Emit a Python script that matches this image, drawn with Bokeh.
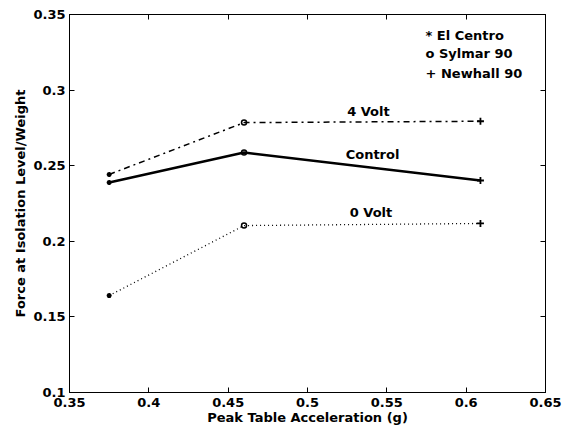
from bokeh.plotting import figure
from bokeh.models import LinearAxis, Range1d, FixedTicker, Label
from bokeh.embed import file_html
from bokeh.resources import INLINE

# Data
accel = [0.375, 0.46, 0.609]
volt4 = [0.2442, 0.2785, 0.2794]
control = [0.2389, 0.2587, 0.2402]
volt0 = [0.1641, 0.2104, 0.2118]
x_ticks = [0.35, 0.4, 0.45, 0.5, 0.55, 0.6, 0.65]
y_ticks = [0.1, 0.15, 0.2, 0.25, 0.3, 0.35]
legend_lines = ["* El Centro", "o Sylmar 90", "+ Newhall 90"]
curve_labels = ["4 Volt", "Control", "0 Volt"]

FONT = "DejaVu Sans"
FSIZE = "13px"

p = figure(width=570, height=434, output_backend="svg", toolbar_location=None,
           x_range=Range1d(0.35, 0.65), y_range=Range1d(0.1, 0.35),
           x_axis_label="Peak Table Acceleration (g)",
           y_axis_label="Force at Isolation Level/Weight")
p.min_border_left = 69
p.min_border_right = 25
p.min_border_top = 14
p.min_border_bottom = 42
p.grid.visible = False
p.outline_line_color = "black"
p.outline_line_width = 1
p.background_fill_color = "white"
p.border_fill_color = "white"

for ax in [p.xaxis[0], p.yaxis[0]]:
    ax.major_tick_in = 5
    ax.major_tick_out = 0
    ax.minor_tick_line_color = None
    ax.axis_line_color = "black"
    ax.major_label_text_font = FONT
    ax.major_label_text_font_style = "bold"
    ax.major_label_text_font_size = FSIZE
    ax.major_label_text_color = "black"
    ax.axis_label_text_font = FONT
    ax.axis_label_text_font_style = "bold"
    ax.axis_label_text_font_size = FSIZE
    ax.axis_label_text_color = "black"
p.xaxis[0].ticker = FixedTicker(ticks=x_ticks)
p.yaxis[0].ticker = FixedTicker(ticks=y_ticks)
p.xaxis[0].major_label_standoff = 5
p.xaxis[0].axis_label_standoff = 0
p.yaxis[0].major_label_standoff = 4
p.yaxis[0].axis_label_standoff = 2

top = LinearAxis(ticker=FixedTicker(ticks=x_ticks), major_label_text_font_size="0px",
                 major_label_text_color=None,
                 major_tick_in=5, major_tick_out=0, minor_tick_line_color=None)
right = LinearAxis(ticker=FixedTicker(ticks=y_ticks), major_label_text_font_size="0px",
                   major_label_text_color=None,
                   major_tick_in=5, major_tick_out=0, minor_tick_line_color=None)
p.add_layout(top, "above")
p.add_layout(right, "right")

# Lines
p.line(accel, volt4, line_color="black", line_width=1.5, line_dash="6 4 2 4")
p.line(accel, control, line_color="black", line_width=2.6)
p.line(accel, volt0, line_color="black", line_width=1.3, line_dash="1 3")

# Markers: El Centro (*), Sylmar 90 (o), Newhall 90 (+)
for series in [volt4, control, volt0]:
    p.scatter([accel[0]], [series[0]], marker="asterisk", size=5, line_color="black", line_width=1.5)
    p.scatter([accel[1]], [series[1]], marker="circle", size=5, line_color="black",
              fill_color=None, line_width=1.5)
    p.scatter([accel[2]], [series[2]], marker="cross", size=7, line_color="black", line_width=1.8)

# Curve labels
for txt, (lx, ly) in zip(curve_labels, [(0.5384, 0.2858), (0.541, 0.2574), (0.540, 0.2188)]):
    p.add_layout(Label(x=lx, y=ly, text=txt, text_align="center", text_baseline="middle",
                       text_font=FONT, text_font_style="bold", text_font_size=FSIZE,
                       text_color="black"))

# Legend texts
for txt, ly in zip(legend_lines, [0.3361, 0.3242, 0.3110]):
    p.add_layout(Label(x=0.5744, y=ly, text=txt, text_align="left", text_baseline="middle",
                       text_font=FONT, text_font_style="bold", text_font_size=FSIZE,
                       text_color="black"))

open("out.html", "w").write(file_html(p, INLINE))
